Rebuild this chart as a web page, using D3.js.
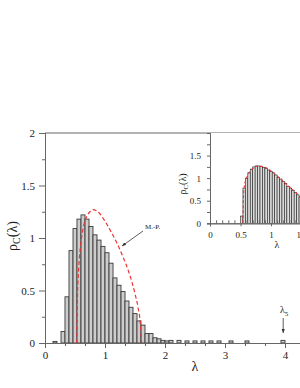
<!DOCTYPE html>
<html><head><meta charset="utf-8">
<script src="https://cdn.jsdelivr.net/npm/d3@7"></script>
<style>
html,body{margin:0;padding:0;background:#fff;}
svg{display:block;font-family:"Liberation Serif","DejaVu Serif",serif;}
</style></head>
<body>
<svg id="chart" width="300" height="388"></svg>
<script>
// ---- main histogram (bin width 1/15) ----
const mainBinWidth = 1 / 15;
const mainBinLeft = [0.133, 0.267, 0.333, 0.4, 0.467, 0.533, 0.6, 0.667, 0.733, 0.8, 0.867, 0.933,
  1.0, 1.067, 1.133, 1.2, 1.267, 1.333, 1.4, 1.467, 1.533, 1.6, 1.667, 1.733, 1.8, 1.867, 1.933,
  2.0, 2.067, 2.2, 2.333, 2.467, 2.6, 2.733, 2.867, 3.067, 3.333, 3.933];
const mainDensity = [0.015, 0.11, 0.44, 0.88, 1.09, 1.18, 1.22, 1.18, 1.11, 1.03, 0.98, 0.92,
  0.86, 0.76, 0.62, 0.55, 0.49, 0.40, 0.34, 0.28, 0.21, 0.17, 0.09, 0.09, 0.05, 0.04, 0.025,
  0.02, 0.025, 0.025, 0.02, 0.02, 0.02, 0.02, 0.02, 0.02, 0.02, 0.025];
// Marchenko-Pastur curve
const mpLambda = [0.53, 0.54, 0.56, 0.6, 0.65, 0.7, 0.75, 0.8, 0.9, 1.0, 1.1, 1.2, 1.3, 1.4, 1.5, 1.55, 1.59, 1.61];
const mpDensity = [0, 0.42, 0.69, 0.96, 1.13, 1.21, 1.25, 1.27, 1.24, 1.16, 1.06, 0.95, 0.82, 0.67, 0.47, 0.34, 0.18, 0];
const mainYTicks = [0, 0.5, 1, 1.5, 2];
const mainXTicks = [0, 1, 2, 3, 4];

// ---- inset histogram (bin width 0.04) ----
const insetBinWidth = 0.04;
const insetBinLeft = [0.50, 0.54, 0.58, 0.62, 0.66, 0.70, 0.74, 0.78, 0.82, 0.86, 0.90, 0.94, 0.98,
  1.02, 1.06, 1.10, 1.14, 1.18, 1.22, 1.26, 1.30, 1.34, 1.38, 1.42, 1.46, 1.50];
const insetDensity = [0.16, 0.78, 1.0, 1.12, 1.2, 1.25, 1.27, 1.27, 1.26, 1.24, 1.22, 1.18, 1.15,
  1.12, 1.07, 1.02, 0.98, 0.93, 0.88, 0.82, 0.78, 0.73, 0.68, 0.63, 0.58, 0.53];
const insetCurveLambda = [0.54, 0.545, 0.55, 0.56, 0.58, 0.62, 0.66, 0.7, 0.75, 0.8, 0.85, 0.9, 1.0, 1.1, 1.2, 1.3, 1.4, 1.5, 1.6];
const insetCurveDensity = [0, 0.3, 0.6, 0.8, 0.93, 1.06, 1.15, 1.21, 1.26, 1.27, 1.26, 1.24, 1.16, 1.05, 0.93, 0.81, 0.69, 0.56, 0.44];
const insetYTicks = [0, 0.5, 1, 1.5];
const insetXTicks = [0, 0.5, 1, 1.5];

const svg = d3.select("#chart");
const axisCol = "#666";
const txtCol = "#222";

// ---------- main plot ----------
const x = d3.scaleLinear().domain([0, 4.25]).range([45, 300]);
const y = d3.scaleLinear().domain([0, 2]).range([343, 133]);

const main = svg.append("g");
main.selectAll("rect.bar").data(mainBinLeft).join("rect")
  .attr("class", "bar")
  .attr("x", d => x(d))
  .attr("width", d => x(d + mainBinWidth) - x(d))
  .attr("y", (d, i) => y(mainDensity[i]))
  .attr("height", (d, i) => y(0) - y(mainDensity[i]))
  .attr("fill", "#cdcdcd")
  .attr("stroke", "#3a3a3a")
  .attr("stroke-width", 0.9);

// MP curve
main.append("path")
  .datum(mpLambda.map((l, i) => [l, mpDensity[i]]))
  .attr("d", d3.line().x(d => x(d[0])).y(d => y(d[1])).curve(d3.curveMonotoneX))
  .attr("fill", "none").attr("stroke", "#ee3333").attr("stroke-width", 1.2)
  .attr("stroke-dasharray", "4,2.5");

// frame top
main.append("line").attr("x1", 45).attr("x2", 300).attr("y1", 133).attr("y2", 133)
  .attr("stroke", axisCol).attr("stroke-width", 1);

function styleAxis(g, fs) {
  g.select(".domain").attr("stroke", axisCol).attr("stroke-width", 1);
  g.selectAll(".tick line").attr("stroke", axisCol).attr("stroke-width", 1);
  g.selectAll(".tick text").attr("fill", txtCol).attr("font-size", fs)
    .attr("font-family", "Liberation Serif, serif");
}
const fmt = d3.format("~g");

// minor ticks main
const xMinor = d3.range(0, 4.25, 1 / 3).filter(v => Math.abs(v - Math.round(v)) > 0.01);
main.append("g").attr("transform", `translate(0,${y(0)})`)
  .call(d3.axisBottom(x).tickValues(xMinor).tickSize(3).tickFormat(""))
  .call(g => styleAxis(g, 10));
main.append("g").attr("transform", `translate(0,${y(0)})`)
  .call(d3.axisBottom(x).tickValues(mainXTicks).tickSize(5).tickPadding(3).tickFormat(fmt))
  .call(g => styleAxis(g, 11));
const yMinor = d3.range(0.25, 2, 0.5);
main.append("g").attr("transform", `translate(${x(0)},0)`)
  .call(d3.axisLeft(y).tickValues(yMinor).tickSize(3).tickFormat(""))
  .call(g => styleAxis(g, 10));
main.append("g").attr("transform", `translate(${x(0)},0)`)
  .call(d3.axisLeft(y).tickValues(mainYTicks).tickSize(6).tickPadding(4).tickFormat(fmt))
  .call(g => styleAxis(g, 11));

// axis titles
main.append("text").attr("x", 195).attr("y", 371).attr("text-anchor", "middle")
  .attr("font-size", 14).attr("fill", txtCol).text("λ");
const yl = main.append("text").attr("transform", "translate(17,236) rotate(-90)")
  .attr("text-anchor", "middle").attr("font-size", 14).attr("fill", txtCol);
yl.append("tspan").text("ρ");
yl.append("tspan").attr("font-size", 10).attr("dy", 3).text("C");
yl.append("tspan").attr("dy", -3).text("(λ)");

// annotations
const defs = svg.append("defs");
defs.append("marker").attr("id", "ah").attr("viewBox", "0 0 10 10").attr("refX", 10).attr("refY", 5)
  .attr("markerWidth", 5).attr("markerHeight", 5).attr("orient", "auto")
  .append("path").attr("d", "M0,1 L10,5 L0,9 Z").attr("fill", "#333");
main.append("text").attr("x", 145).attr("y", 229).attr("font-size", 7).attr("fill", txtCol).text("M.-P.");
main.append("line").attr("x1", 143).attr("y1", 231).attr("x2", 122).attr("y2", 246)
  .attr("stroke", "#333").attr("stroke-width", 0.8).attr("marker-end", "url(#ah)");
const l5 = main.append("text").attr("x", 280).attr("y", 313).attr("font-size", 10).attr("fill", txtCol);
l5.append("tspan").text("λ");
l5.append("tspan").attr("font-size", 7).attr("dy", 2.5).text("5");
main.append("line").attr("x1", x(3.97)).attr("y1", 318).attr("x2", x(3.97)).attr("y2", 333)
  .attr("stroke", "#333").attr("stroke-width", 0.8).attr("marker-end", "url(#ah)");

// ---------- inset ----------
const ix = d3.scaleLinear().domain([0, 2]).range([210, 332]);
const iy = d3.scaleLinear().domain([0, 2]).range([223.3, 133]);
const inset = svg.append("g");
inset.append("rect").attr("x", 210).attr("y", 133).attr("width", 122).attr("height", 90.3).attr("fill", "#fff");
defs.append("clipPath").attr("id", "iclip").append("rect")
  .attr("x", 210).attr("y", 133).attr("width", 122).attr("height", 90.3);
const ic = inset.append("g").attr("clip-path", "url(#iclip)");
ic.selectAll("rect").data(insetBinLeft).join("rect")
  .attr("x", d => ix(d))
  .attr("width", d => ix(d + insetBinWidth) - ix(d))
  .attr("y", (d, i) => iy(insetDensity[i]))
  .attr("height", (d, i) => iy(0) - iy(insetDensity[i]))
  .attr("fill", "#dcdcdc").attr("stroke", "#222").attr("stroke-width", 0.6);
ic.append("path")
  .datum(insetCurveLambda.map((l, i) => [l, insetCurveDensity[i]]))
  .attr("d", d3.line().x(d => ix(d[0])).y(d => iy(d[1])).curve(d3.curveMonotoneX))
  .attr("fill", "none").attr("stroke", "#ee3333").attr("stroke-width", 1.1)
  .attr("stroke-dasharray", "3,2");

const ixMinor = d3.range(0, 2, 0.1).filter(v => Math.abs(v * 2 - Math.round(v * 2)) > 0.01);
inset.append("g").attr("transform", `translate(0,${iy(0)})`)
  .call(d3.axisBottom(ix).tickValues(ixMinor).tickSize(-3).tickFormat(""))
  .call(g => styleAxis(g, 8));
inset.append("g").attr("transform", `translate(0,${iy(0)})`)
  .call(d3.axisBottom(ix).tickValues(insetXTicks).tickSize(3).tickPadding(5).tickFormat(fmt))
  .call(g => styleAxis(g, 9));
inset.append("g").attr("transform", `translate(${ix(0)},0)`)
  .call(d3.axisLeft(iy).tickValues(d3.range(0.25, 2, 0.5)).tickSize(3).tickFormat(""))
  .call(g => styleAxis(g, 8));
inset.append("g").attr("transform", `translate(${ix(0)},0)`)
  .call(d3.axisLeft(iy).tickValues(insetYTicks).tickSize(3).tickPadding(6).tickFormat(fmt))
  .call(g => styleAxis(g, 9));
inset.append("text").attr("x", 277).attr("y", 248).attr("text-anchor", "middle")
  .attr("font-size", 10).attr("fill", txtCol).text("λ");
const iyl = inset.append("text").attr("transform", "translate(186,184) rotate(-90)")
  .attr("text-anchor", "middle").attr("font-size", 10).attr("fill", txtCol);
iyl.append("tspan").text("ρ");
iyl.append("tspan").attr("font-size", 7).attr("dy", 2).text("C");
iyl.append("tspan").attr("dy", -2).text("(λ)");
</script>
</body></html>
